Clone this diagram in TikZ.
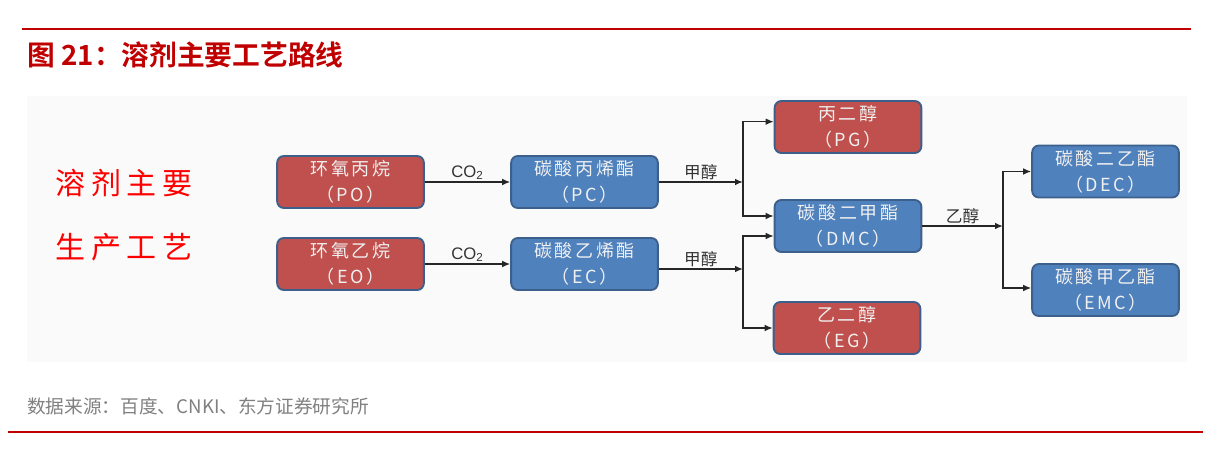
\documentclass[tikz,border=0pt]{standalone}
\usepackage{fontspec}
\setmainfont{Noto Sans CJK SC}[BoldFont={Noto Sans CJK SC Bold}]
\newfontfamily\boxfont[LetterSpace=14]{Noto Sans CJK SC}
\newfontfamily\bigfont[LetterSpace=18]{Noto Sans CJK SC}
\newfontfamily\latinfont{Liberation Sans}
\usetikzlibrary{arrows.meta}
\definecolor{titlered}{RGB}{192,0,0}
\definecolor{boxred}{RGB}{192,80,77}
\definecolor{boxblue}{RGB}{79,129,189}
\definecolor{boxline}{RGB}{60,95,140}
\definecolor{panel}{RGB}{250,250,250}
\definecolor{notegray}{RGB}{128,128,128}

\begin{document}
\begin{tikzpicture}[x=0.75pt,y=-0.75pt,
    proc/.style={draw=boxline, line width=1.4pt, rounded corners=5pt,
      minimum width=110pt, minimum height=39pt, align=center,
      text=white!94!black, font=\boxfont\fontsize{13.5}{19.5}\selectfont},
    redbox/.style={proc, fill=boxred},
    bluebox/.style={proc, fill=boxblue},
    arr/.style={draw=black!85, line width=1.1pt, -{Latex[length=6pt,width=5pt]}},
    lbl/.style={inner sep=1pt, text=black!80, font=\fontsize{12.5}{14}\selectfont}]
  \useasboundingbox (0,0) rectangle (1217,458);
  % frame
  \draw [titlered, line width=1.8pt] (22,29) -- (1191,29);
  \draw [titlered, line width=1.8pt] (8,432) -- (1203,432);
  \fill [panel] (27,96) rectangle (1187,362);
  \node [anchor=west, inner sep=0pt, text=titlered, font=\bfseries\fontsize{20.8}{23}\selectfont]
    (title) at (27,55) {图 21：溶剂主要工艺路线};
  \node [anchor=west, inner sep=0pt, text=notegray, font=\fontsize{14}{16}\selectfont]
    (note) at (27,406) {数据来源：百度、CNKI、东方证券研究所};
  \node [text=red, font=\bigfont\fontsize{22.5}{25}\selectfont] (hd1) at (124,183) {溶剂主要};
  \node [text=red, font=\bigfont\fontsize{22.5}{25}\selectfont] (hd2) at (124,247) {生产工艺};
  % boxes
  \node [redbox] (PO) at (350.5,182) {环氧丙烷\\（PO）};
  \node [redbox] (EO) at (350.5,264) {环氧乙烷\\（EO）};
  \node [bluebox] (PC) at (584.5,182) {碳酸丙烯酯\\（PC）};
  \node [bluebox] (EC) at (584.5,264) {碳酸乙烯酯\\（EC）};
  \node [redbox] (PG) at (848,127) {丙二醇\\（PG）};
  \node [bluebox] (DMC) at (848,226) {碳酸二甲酯\\（DMC）};
  \node [redbox] (EG) at (847,328) {乙二醇\\（EG）};
  \node [bluebox] (DEC) at (1105.5,171.5) {碳酸二乙酯\\（DEC）};
  \node [bluebox] (EMC) at (1105.5,290) {碳酸甲乙酯\\（EMC）};
  % junctions
  \coordinate (j1) at (743,182);
  \coordinate (j2) at (743,269);
  \coordinate (j3) at (1003,226);
  % arrows
  \draw [arr] (PO) -- node [lbl, above] {\latinfont CO\textsubscript{2}} (PC);
  \draw [arr] (EO) -- node [lbl, above] {\latinfont CO\textsubscript{2}} (EC);
  \draw [arr] (PC.east) -- node [lbl, above] {甲醇} (j1);
  \draw [arr] (EC.east |- j2) -- node [lbl, above] {甲醇} (j2);
  \draw [arr] (j1) |- ([yshift=4pt]PG.west);
  \draw [arr] (j1) |- ([yshift=7.5pt]DMC.west);
  \draw [arr] (j2) |- ([yshift=-7.5pt]DMC.west);
  \draw [arr] (j2) |- (EG.west);
  \draw [arr] (DMC.east) -- node [lbl, above] {乙醇} (j3);
  \draw [arr] (j3) |- (DEC.west);
  \draw [arr] (j3) |- ([yshift=1.5pt]EMC.west);
\end{tikzpicture}
\end{document}
